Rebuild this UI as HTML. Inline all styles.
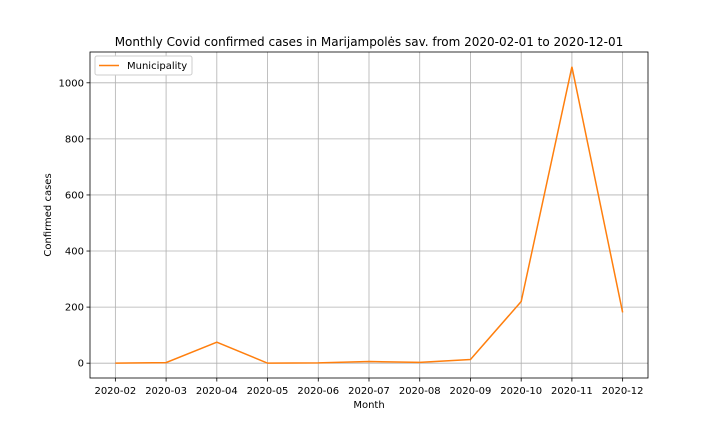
<!DOCTYPE html>
<html><head><meta charset="utf-8"><style>
body{margin:0;background:#fff;font-family:"Liberation Sans","DejaVu Sans",sans-serif;}
svg text{font-family:"DejaVu Sans","Liberation Sans",sans-serif;}
</style></head><body>
<svg id="chart" width="720" height="432" xmlns="http://www.w3.org/2000/svg">
<rect width="720" height="432" fill="#fff"/>
<g id="grid"></g><g id="axes"></g><g id="series"></g>
<text x="369" y="46" font-size="12" text-anchor="middle">Monthly Covid confirmed cases in Marijampolės sav. from 2020-02-01 to 2020-12-01</text>
<text x="369" y="408" font-size="10" text-anchor="middle">Month</text>
<text transform="translate(51,215) rotate(-90)" font-size="10" text-anchor="middle">Confirmed cases</text>
<g>
<rect x="95" y="56" width="97" height="19" fill="#fff" stroke="#ccc" rx="2"/>
<line x1="99" y1="65.5" x2="119" y2="65.5" stroke="#ff7f0e" stroke-width="1.5"/>
<text x="127" y="69" font-size="10">Municipality</text>
</g>
</svg>
<script>
const months=["2020-02","2020-03","2020-04","2020-05","2020-06","2020-07","2020-08","2020-09","2020-10","2020-11","2020-12"];
const cases=[0,2,75,0,1,6,3,13,220,1057,181];
const yTicks=[0,200,400,600,800,1000];
const L=90,R=648,T=52,B=378;
const xMin=-0.5,xMax=months.length-0.5;
const maxV=Math.max(...cases),minV=Math.min(...cases),pad=(maxV-minV)*0.05;
const yMin=minV-pad,yMax=maxV+pad;
const xs=i=>L+(i-xMin)/(xMax-xMin)*(R-L);
const ys=v=>B-(v-yMin)/(yMax-yMin)*(B-T);
const NS="http://www.w3.org/2000/svg";
function mk(p,tag,attrs,txt){const e=document.createElementNS(NS,tag);for(const k in attrs)e.setAttribute(k,attrs[k]);if(txt!==undefined)e.textContent=txt;p.appendChild(e);return e;}
const grid=document.getElementById('grid'),axes=document.getElementById('axes'),ser=document.getElementById('series');
months.forEach((m,i)=>{const x=xs(i);
 const g=mk(grid,'line',{x1:x,x2:x,y1:T,y2:B,stroke:'#b0b0b0','stroke-width':0.8});
 
 
 mk(axes,'line',{x1:x,x2:x,y1:B,y2:B+3.5,stroke:'#000','stroke-width':0.8});
 const t=mk(axes,'text',{x:x,y:B+16,'font-size':10,'text-anchor':'middle'},m);
 
 
});
yTicks.forEach(v=>{const y=ys(v);
 const g=mk(grid,'line',{x1:L,x2:R,y1:y,y2:y,stroke:'#b0b0b0','stroke-width':0.8});
 
 
 mk(axes,'line',{x1:L-3.5,x2:L,y1:y,y2:y,stroke:'#000','stroke-width':0.8});
 const t=mk(axes,'text',{x:L-6,y:y+3.5,'font-size':10,'text-anchor':'end'},v);
 
 
});
const fr=mk(axes,'rect',{x:L,y:T,width:R-L,height:B-T,fill:'none',stroke:'#000','stroke-width':0.8});


const pl=mk(ser,'polyline',{points:cases.map((v,i)=>xs(i)+','+ys(v)).join(' '),fill:'none',stroke:'#ff7f0e','stroke-width':1.5});


</script>
</body></html>
